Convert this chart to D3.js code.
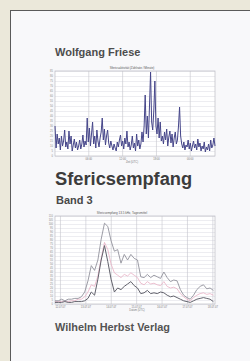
<!DOCTYPE html>
<html><head><meta charset="utf-8">
<script src="https://cdn.jsdelivr.net/npm/d3@7"></script>
<style>html,body{margin:0;padding:0;background:#ebe8da;}svg{display:block;}</style>
</head><body>
<script>
// ---- data ----
const author = "Wolfgang Friese";
const bookTitle = "Sfericsempfang";
const volume = "Band 3";
const publisher = "Wilhelm Herbst Verlag";

const chart1Title = "Sfericsaktivität (Zählrate / Minute)";
const chart1XTitle = "Zeit (UTC)";
const chart1TickPos = [31, 62.5, 94, 125.5];
const chart1TickLabels = ["06:00", "12:00", "18:00", "00:00"];
const chart1Values = [
  30, 8, 22, 12, 18, 6, 20, 10, 15, 26,
  9, 14, 7, 25, 12, 20, 5, 11, 17, 8,
  14, 6, 10, 16, 7, 12, 21, 9, 15, 11,
  38, 14, 28, 10, 22, 34, 12, 20, 8, 26,
  15, 9, 18, 24, 38, 16, 27, 11, 20, 26,
  13, 8, 15, 10, 6, 12, 8, 5, 14, 9,
  16, 21, 10, 15, 7, 18, 12, 25, 9, 14,
  6, 11, 20, 8, 13, 5, 22, 10, 16, 7,
  12, 24, 14, 30, 61, 22, 40, 18, 50, 84,
  34, 26, 45, 75, 30, 22, 38, 18, 34, 15,
  20, 12, 24, 16, 27, 10, 19, 25, 13, 22,
  9, 18, 24, 12, 16, 30, 49, 20, 12, 8,
  14, 6, 11, 9, 16, 7, 13, 5, 10, 15,
  8, 12, 6, 17, 9, 13, 5, 10, 7, 14,
  4, 9, 6, 12, 5, 16, 8, 11, 18, 10
];

const chart2Title = "Sfericsempfang 13.5 kHz, Tagesmittel";
const chart2XTitle = "Datum (UTC)";
const chart2TickPos = [1.5, 9.2, 16.9, 24.6, 32.3, 40, 47.7];
const chart2TickLabels = ["12.07.07", "13.07.07", "14.07.07", "15.07.07", "16.07.07", "17.07.07", "18.07.07"];
const seriesMax = [4,4,6,4,6,6,7,7,9, 15,29,48,42,55,81,101,97,79,66, 68,51,62,55,62,57,55,34,33,37, 33,36,34,32,40,33,28,30,29,18, 11,8,6,11,18,22,24,19,20,17];
const seriesMean = [3,3,3,4,3,4,4,6,6, 9,15,24,22,35,57,77,68,50,39, 36,33,37,35,39,36,33,26,24,28, 25,26,24,23,28,22,20,21,19,13, 9,6,4,8,11,13,14,12,13,11];
const seriesMin = [2,2,2,3,2,2,3,3,3, 4,7,15,11,31,55,73,53,31,15, 20,18,22,25,28,23,20,13,14,17, 13,14,13,15,14,11,9,10,8,6, 4,3,2,4,6,7,8,7,6,3];

// ---- drawing ----
const W = 250, H = 361;
const svg = d3.select("body").append("svg").attr("width", W).attr("height", H);
const font = "'Liberation Sans', Arial, sans-serif";

svg.append("rect").attr("x", 0).attr("y", 0).attr("width", W).attr("height", H).attr("fill", "#ebe8da");
svg.append("rect").attr("x", 10.5).attr("y", 10.5).attr("width", W).attr("height", H).attr("fill", "#f8f8fa")
  .attr("stroke", "#5a5a5a").attr("stroke-width", 1);

function text(t, x, y, size, color, weight, anchor) {
  return svg.append("text").attr("x", x).attr("y", y).attr("font-family", font)
    .attr("font-size", size).attr("font-weight", weight || "bold").attr("fill", color)
    .attr("text-anchor", anchor || "start").text(t);
}

text(author, 55, 56, 11, "#4d4d4d");
text(bookTitle, 55, 185, 18.3, "#3c3c3c");
text(volume, 56, 204, 11, "#484848");
text(publisher, 55, 331, 10.9, "#535353");

function chart(opts) {
  const g = svg.append("g");
  const x = d3.scaleLinear().domain(opts.xDomain).range([opts.x0, opts.x1]);
  const y = d3.scaleLinear().domain(opts.yDomain).range([opts.y1, opts.y0]);
  g.append("rect").attr("x", opts.x0).attr("y", opts.y0).attr("width", opts.x1 - opts.x0)
    .attr("height", opts.y1 - opts.y0).attr("fill", "#ffffff");
  g.append("g").attr("transform", `translate(${opts.x0},0)`)
    .call(d3.axisLeft(y).tickValues(d3.range(opts.yDomain[0], opts.yDomain[1] + 0.01, opts.yStep))
      .tickSize(-(opts.x1 - opts.x0)).tickPadding(2).tickFormat(d3.format("d")))
    .call(s => {
      s.select(".domain").remove();
      s.selectAll(".tick line").attr("stroke", "#dadae2").attr("stroke-width", 0.5);
      s.selectAll(".tick text").attr("font-size", 2.6).attr("fill", "#888").attr("font-family", font);
    });
  g.append("g").attr("transform", `translate(0,${opts.y1})`)
    .call(d3.axisBottom(x).tickValues(opts.ticks).tickSize(-(opts.y1 - opts.y0)).tickPadding(2.5)
      .tickFormat((d, i) => opts.labels[i]))
    .call(s => {
      s.select(".domain").remove();
      s.selectAll(".tick line").attr("stroke", "#c4c4cc").attr("stroke-width", 0.6);
      s.selectAll(".tick text").attr("font-size", 2.6).attr("fill", "#777").attr("font-family", font);
    });
  g.append("rect").attr("x", opts.x0).attr("y", opts.y0).attr("width", opts.x1 - opts.x0)
    .attr("height", opts.y1 - opts.y0).attr("fill", "none").attr("stroke", "#bcbcc4").attr("stroke-width", 0.7);
  opts.series.forEach(s => {
    const line = d3.line().x((d, i) => x(i)).y(d => y(d));
    g.append("path").datum(s.values).attr("d", line).attr("fill", "none")
      .attr("stroke", s.color).attr("stroke-width", s.width).attr("stroke-linejoin", "round");
  });
  g.append("text").attr("x", opts.titleX).attr("y", opts.y0 - 2).attr("font-size", 3).attr("fill", "#555")
    .attr("font-family", font).attr("text-anchor", "middle").text(opts.title);
  g.append("text").attr("x", opts.xTitleX).attr("y", opts.y1 + 7).attr("font-size", 2.6).attr("fill", "#777")
    .attr("font-family", font).attr("text-anchor", "middle").text(opts.xTitle);
}

chart({
  x0: 55, x1: 215, y0: 71, y1: 156,
  xDomain: [0, chart1Values.length - 1], yDomain: [0, 85], yStep: 5,
  ticks: chart1TickPos, labels: chart1TickLabels,
  title: chart1Title, titleX: 132, xTitle: chart1XTitle, xTitleX: 132,
  series: [{ values: chart1Values, color: "#46468a", width: 1.0 }]
});

chart({
  x0: 55, x1: 215, y0: 216, y1: 304,
  xDomain: [0, 48.5], yDomain: [0, 110], yStep: 5,
  ticks: chart2TickPos, labels: chart2TickLabels,
  title: chart2Title, titleX: 122, xTitle: chart2XTitle, xTitleX: 137,
  series: [
    { values: seriesMean, color: "#e8b0c4", width: 0.8 },
    { values: seriesMax, color: "#92929c", width: 0.9 },
    { values: seriesMin, color: "#62626c", width: 1.0 }
  ]
});
</script>
</body></html>
